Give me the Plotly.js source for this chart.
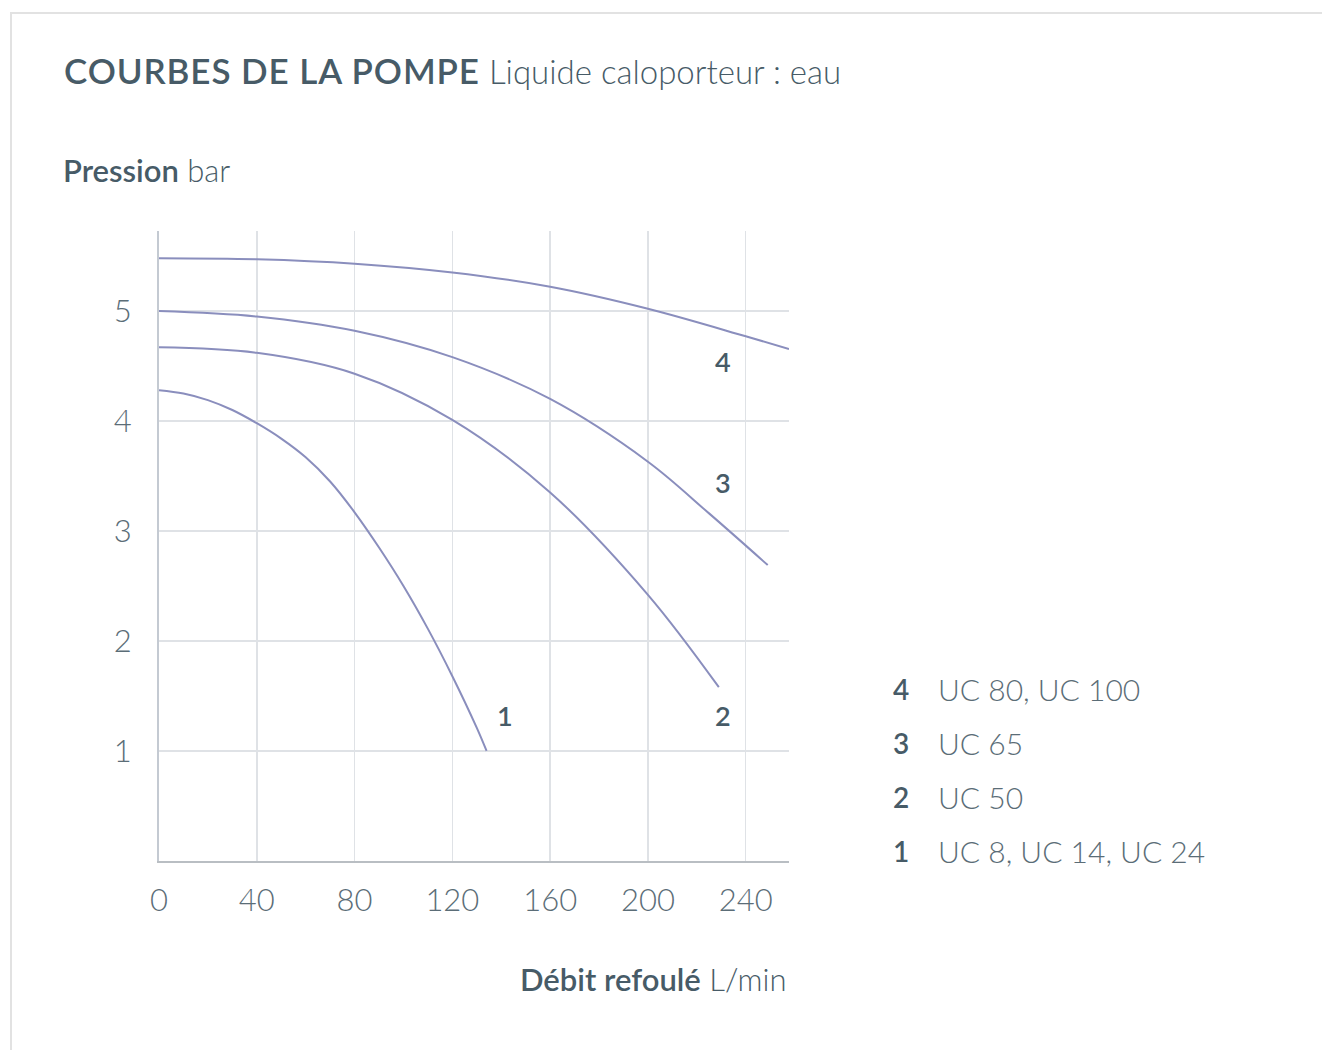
<!DOCTYPE html>
<html>
<head>
<meta charset="utf-8">
<script src="https://cdn.plot.ly/plotly-3.0.1.min.js"></script>
<style>
  html, body { margin: 0; padding: 0; background: #ffffff; }
  #wrap { position: relative; width: 1322px; height: 1050px; overflow: hidden; }
  #card { position: absolute; left: 10px; top: 12px; width: 1400px; height: 1100px;
          border-left: 2px solid #e2e2e2; border-top: 2px solid #e2e2e2; box-sizing: border-box; }
  #chart { position: absolute; left: 0; top: 0; width: 1322px; height: 1050px; }
</style>
</head>
<body>
<div id="wrap">
  <div id="card"></div>
  <div id="chart"></div>
</div>
<script>
// Pump curves: flow (L/min) vs pressure (bar)
const flow1 = [0, 10, 20, 30, 40, 50, 60, 70, 80, 90, 100, 110, 120, 130, 134];
const pres1 = [4.28, 4.25, 4.19, 4.10, 3.98, 3.84, 3.67, 3.45, 3.17, 2.85, 2.50, 2.11, 1.68, 1.21, 1.0];
const flow2 = [0, 40, 80, 120, 160, 200, 229];
const pres2 = [4.67, 4.62, 4.43, 4.01, 3.35, 2.42, 1.58];
const flow3 = [0, 40, 80, 120, 160, 200, 225, 249];
const pres3 = [5.0, 4.95, 4.82, 4.58, 4.2, 3.63, 3.16, 2.69];
const flow4 = [0, 40, 80, 120, 160, 200, 240, 257.7];
const pres4 = [5.48, 5.47, 5.43, 5.35, 5.22, 5.02, 4.77, 4.655];

const curveLabels = ['1', '2', '3', '4'];
const curveLabelX = [141.5, 230.7, 230.7, 230.7];
const curveLabelY = [1.32, 1.32, 3.44, 4.54];

const legendNumbers = ['4', '3', '2', '1'];
const legendModels = ['UC 80, UC 100', 'UC 65', 'UC 50', 'UC 8, UC 14, UC 24'];

const xTicks = [0, 40, 80, 120, 160, 200, 240];
const yTicks = [1, 2, 3, 4, 5];

const titleMain = 'COURBES DE LA POMPE';
const titleSub = 'Liquide caloporteur : eau';
const yTitleMain = 'Pression';
const yTitleUnit = 'bar';
const xTitleMain = 'Débit refoulé';
const xTitleUnit = 'L/min';

const LINE = '#8a8ebd';
const DARK = '#475b67';
const LIGHT = '#5b6d77';
const FONT = 'Lato, "Open Sans", sans-serif';

const series = [[flow1, pres1], [flow2, pres2], [flow3, pres3], [flow4, pres4]];
const traces = series.map(([x, y]) => ({
  x: x, y: y, type: 'scatter', mode: 'lines',
  line: { color: LINE, width: 2, shape: 'spline', smoothing: 1 },
  hoverinfo: 'skip', showlegend: false
}));

// plot area in pixels: left 159, right 789, top 231, bottom 861
const L = 159, R = 789, T = 231, B = 861;
const px = v => (v - L) / (R - L);
const py = v => (B - v) / (B - T);

const annotations = [];
curveLabels.forEach((t, i) => annotations.push({
  x: curveLabelX[i], y: curveLabelY[i], xref: 'x', yref: 'y', text: t, showarrow: false,
  xanchor: 'center', yanchor: 'middle',
  font: { family: FONT, size: 27, color: DARK, weight: 600 }
}));
legendNumbers.forEach((t, i) => {
  const rowY = 689 + i * 54;
  annotations.push({
    x: px(901), y: py(rowY), xref: 'paper', yref: 'paper', text: t, showarrow: false,
    xanchor: 'center', yanchor: 'middle',
    font: { family: FONT, size: 28, color: DARK, weight: 600 }
  });
  annotations.push({
    x: px(936), y: py(rowY), xref: 'paper', yref: 'paper', text: legendModels[i], showarrow: false,
    xanchor: 'left', yanchor: 'middle',
    font: { family: FONT, size: 30, color: LIGHT, weight: 300 }
  });
});
annotations.push({
  x: px(61), y: py(170), xref: 'paper', yref: 'paper', showarrow: false,
  xanchor: 'left', yanchor: 'middle',
  text: '<span style="font-weight:600">' + yTitleMain + '</span> ' + yTitleUnit,
  font: { family: FONT, size: 31, color: DARK, weight: 300 }
});
annotations.push({
  x: px(788), y: py(979), xref: 'paper', yref: 'paper', showarrow: false,
  xanchor: 'right', yanchor: 'middle',
  text: '<span style="font-weight:600">' + xTitleMain + '</span> ' + xTitleUnit,
  font: { family: FONT, size: 31, color: DARK, weight: 300 }
});

const layout = {
  width: 1322, height: 1050,
  margin: { l: L, r: 1322 - R, t: T, b: 1050 - B, pad: 0 },
  paper_bgcolor: 'rgba(0,0,0,0)', plot_bgcolor: 'rgba(0,0,0,0)',
  showlegend: false,
  title: {
    text: '<span style="font-weight:600;font-size:35px;letter-spacing:0.9px">' + titleMain + '</span> ' + titleSub,
    x: 64 / 1322, xref: 'container', xanchor: 'left',
    y: 1 - 72 / 1050, yref: 'container', yanchor: 'middle',
    font: { family: FONT, size: 33, color: DARK, weight: 300 }
  },
  xaxis: {
    range: [0, 257.7], tickvals: xTicks, ticktext: xTicks.map(String),
    showgrid: true, gridcolor: '#dfe2e6', gridwidth: 1.5,
    zeroline: false, showline: true, linecolor: '#b9bec3', linewidth: 2,
    ticks: '', ticklabelstandoff: 11,
    tickfont: { family: FONT, size: 31, color: LIGHT, weight: 300 },
    fixedrange: true
  },
  yaxis: {
    range: [0, 5.727], tickvals: yTicks, ticktext: yTicks.map(String),
    showgrid: true, gridcolor: '#dfe2e6', gridwidth: 1.5,
    zeroline: false, showline: true, linecolor: '#c4cad2', linewidth: 2,
    ticks: '', ticklabelstandoff: 19,
    tickfont: { family: FONT, size: 31, color: LIGHT, weight: 300 },
    fixedrange: true
  },
  annotations: annotations
};

Plotly.newPlot('chart', traces, layout, { displayModeBar: false, staticPlot: true });
</script>
</body>
</html>
